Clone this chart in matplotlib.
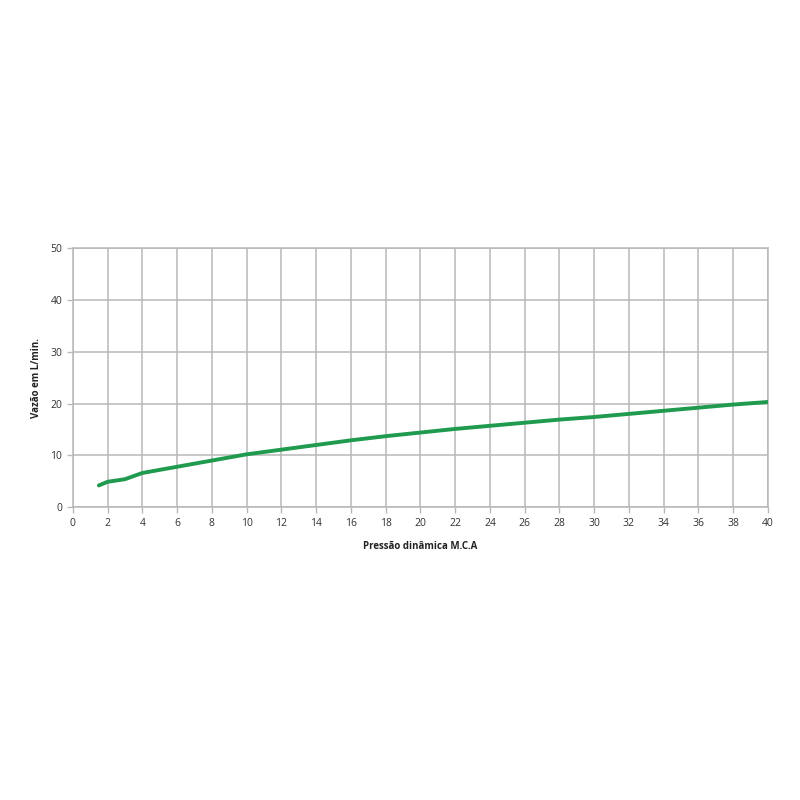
import matplotlib
matplotlib.use("Agg")
import matplotlib.pyplot as plt
import numpy as np

pressao = [1.5, 2, 3, 4, 6, 8, 10, 12, 14, 16, 18, 20, 22, 24, 26, 28, 30, 32, 34, 36, 38, 40]
vazao = [4.2, 4.9, 5.4, 6.6, 7.8, 9.0, 10.2, 11.1, 12.0, 12.9, 13.7, 14.4, 15.1, 15.7, 16.3, 16.9, 17.4, 18.0, 18.6, 19.2, 19.8, 20.3]
xticks = list(range(0, 41, 2))
yticks = [0, 10, 20, 30, 40, 50]

plt.rcParams['font.family'] = ['Open Sans', 'DejaVu Sans']
fig = plt.figure(figsize=(8, 8), dpi=100)
ax = fig.add_axes([0.091, 0.366, 0.869, 0.324])
ax.plot(pressao, vazao, color='#1f9a4e', linewidth=2.8, solid_capstyle='round', zorder=3)
ax.set_xlim(0, 40)
ax.set_ylim(0, 50)
ax.set_xticks(xticks)
ax.set_yticks(yticks)
ax.grid(True, color='#b8b8b8', linewidth=1.1)
for s in ax.spines.values():
    s.set_color('#b8b8b8')
    s.set_linewidth(1.1)
ax.tick_params(axis='both', labelsize=7.5, colors='#b8b8b8', labelcolor='#333333', length=4, width=1)
ax.set_xlabel('Pressão dinâmica M.C.A', fontsize=7, fontweight='bold', color='#222222', labelpad=9)
ax.set_ylabel('Vazão em L/min.', fontsize=7, fontweight='bold', color='#222222', labelpad=6)
fig.savefig('out.png', dpi=100, facecolor='white')
